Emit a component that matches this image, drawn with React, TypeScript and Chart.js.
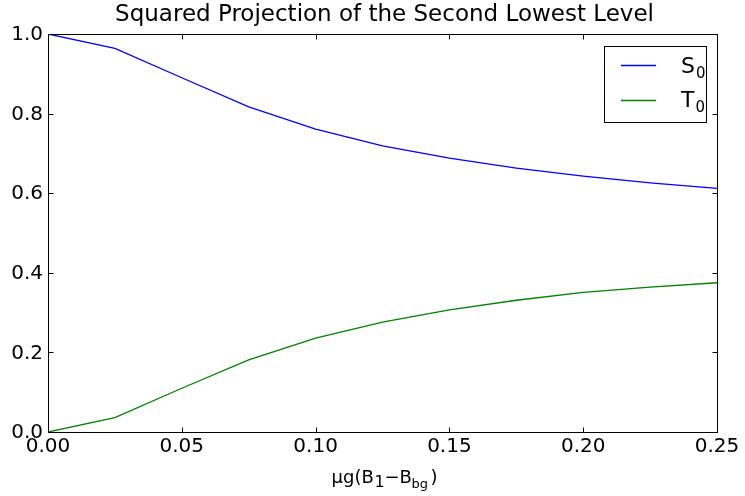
import React, { useEffect, useRef } from "react";
import { Chart, registerables } from "chart.js";

Chart.register(...registerables);

const xValues = [0, 0.025, 0.05, 0.075, 0.1, 0.125, 0.15, 0.175, 0.2, 0.225, 0.25];
const s0Values = [1.0, 0.964, 0.89, 0.817, 0.761, 0.719, 0.688, 0.663, 0.643, 0.626, 0.612];
const t0Values = [0.0, 0.036, 0.11, 0.181, 0.236, 0.276, 0.307, 0.331, 0.351, 0.364, 0.375];
const xTicks = [0, 0.05, 0.1, 0.15, 0.2, 0.25];
const xTickLabels = ["0.00", "0.05", "0.10", "0.15", "0.20", "0.25"];
const yTicks = [0, 0.2, 0.4, 0.6, 0.8, 1.0];
const yTickLabels = ["0.0", "0.2", "0.4", "0.6", "0.8", "1.0"];
const titleText = "Squared Projection of the Second Lowest Level";
const seriesNames = ["S", "T"];
const seriesSubs = ["0", "0"];
const seriesColors = ["#0000ff", "#008000"];

const FONT = "'DejaVu Sans', sans-serif";

const decorPlugin = {
  id: "decor",
  afterDraw(chart: any) {
    const ctx = chart.ctx as CanvasRenderingContext2D;
    const { left, right, top, bottom } = chart.chartArea;
    const xs = chart.scales.x;
    const ys = chart.scales.y;
    ctx.save();
    // frame
    ctx.strokeStyle = "#000";
    ctx.lineWidth = 1;
    const L = Math.round(left) + 0.5;
    const R = Math.round(right) + 0.5;
    const T = Math.round(top) + 0.5;
    const B = Math.round(bottom) + 0.5;
    ctx.strokeRect(L, T, R - L, B - T);
    // ticks inward
    const tl = 5;
    ctx.beginPath();
    xTicks.forEach((v) => {
      const px = Math.round(xs.getPixelForValue(v)) + 0.5;
      ctx.moveTo(px, B);
      ctx.lineTo(px, B - tl);
      ctx.moveTo(px, T);
      ctx.lineTo(px, T + tl);
    });
    yTicks.forEach((v) => {
      const py = Math.round(ys.getPixelForValue(v)) + 0.5;
      ctx.moveTo(L, py);
      ctx.lineTo(L + tl, py);
      ctx.moveTo(R, py);
      ctx.lineTo(R - tl, py);
    });
    ctx.stroke();
    // tick labels
    ctx.fillStyle = "#000";
    ctx.font = `20px ${FONT}`;
    ctx.textAlign = "center";
    ctx.textBaseline = "alphabetic";
    xTicks.forEach((v, i) => {
      const px = xs.getPixelForValue(v);
      ctx.fillText(xTickLabels[i], px, bottom + 20);
    });
    ctx.textAlign = "right";
    ctx.textBaseline = "middle";
    yTicks.forEach((v, i) => {
      const py = ys.getPixelForValue(v);
      ctx.fillText(yTickLabels[i], left - 5, py + 1);
    });
    // title
    ctx.textAlign = "center";
    ctx.textBaseline = "alphabetic";
    ctx.font = `23px ${FONT}`;
    ctx.fillText(titleText, (left + right) / 2 + 2, 21);
    // x axis label: μg(B_1 − B_bg)
    const cx = (left + right) / 2;
    const segs = [
      { t: "μg(B", size: 18, base: 483, dx: -51 },
      { t: "1", size: 16, base: 487, dx: -8 },
      { t: "−B", size: 18, base: 483, dx: 2 },
      { t: "bg", size: 13, base: 488, dx: 29 },
      { t: ")", size: 18, base: 483, dx: 48 },
    ];
    ctx.textAlign = "left";
    segs.forEach((s) => {
      ctx.font = `${s.size}px ${FONT}`;
      ctx.fillText(s.t, cx + s.dx, s.base);
    });
    // legend
    const bx = 604.5, by = 46.5, bw = 102, bh = 76;
    ctx.fillStyle = "#fff";
    ctx.fillRect(bx, by, bw, bh);
    ctx.strokeStyle = "#000";
    ctx.lineWidth = 1;
    ctx.strokeRect(bx, by, bw, bh);
    const rows = [65, 100];
    const baselines = [73, 107];
    rows.forEach((ry, i) => {
      ctx.strokeStyle = seriesColors[i];
      ctx.lineWidth = 1.3;
      ctx.beginPath();
      ctx.moveTo(621, ry + 0.5);
      ctx.lineTo(656, ry + 0.5);
      ctx.stroke();
      ctx.fillStyle = "#000";
      ctx.font = `22px ${FONT}`;
      ctx.textAlign = "left";
      ctx.fillText(seriesNames[i], 681, baselines[i]);
      const w = ctx.measureText(seriesNames[i]).width;
      ctx.font = `15px ${FONT}`;
      ctx.fillText(seriesSubs[i], 681 + w + 1, baselines[i] + 5);
    });
    ctx.restore();
  },
};

export default function App() {
  const ref = useRef<HTMLCanvasElement | null>(null);
  useEffect(() => {
    if (!ref.current) return;
    const chart = new Chart(ref.current, {
      type: "line",
      data: {
        datasets: [
          {
            label: "S0",
            data: xValues.map((x, i) => ({ x, y: s0Values[i] })),
            borderColor: seriesColors[0],
            borderWidth: 1.3,
            pointRadius: 0,
            fill: false,
            tension: 0,
          },
          {
            label: "T0",
            data: xValues.map((x, i) => ({ x, y: t0Values[i] })),
            borderColor: seriesColors[1],
            borderWidth: 1.3,
            pointRadius: 0,
            fill: false,
            tension: 0,
          },
        ],
      },
      options: {
        responsive: false,
        animation: false,
        layout: { padding: { left: 48, right: 28, top: 34, bottom: 64 } },
        plugins: { legend: { display: false }, title: { display: false }, tooltip: { enabled: false } },
        scales: {
          x: { type: "linear", min: 0, max: 0.25, display: false },
          y: { type: "linear", min: 0, max: 1, display: false },
        },
      },
      plugins: [decorPlugin],
    });
    return () => chart.destroy();
  }, []);
  return (
    <div style={{ position: "fixed", left: 0, top: 0, width: 745, height: 496, background: "#fff" }}>
      <canvas ref={ref} width={745} height={496} style={{ display: "block" }} />
    </div>
  );
}
